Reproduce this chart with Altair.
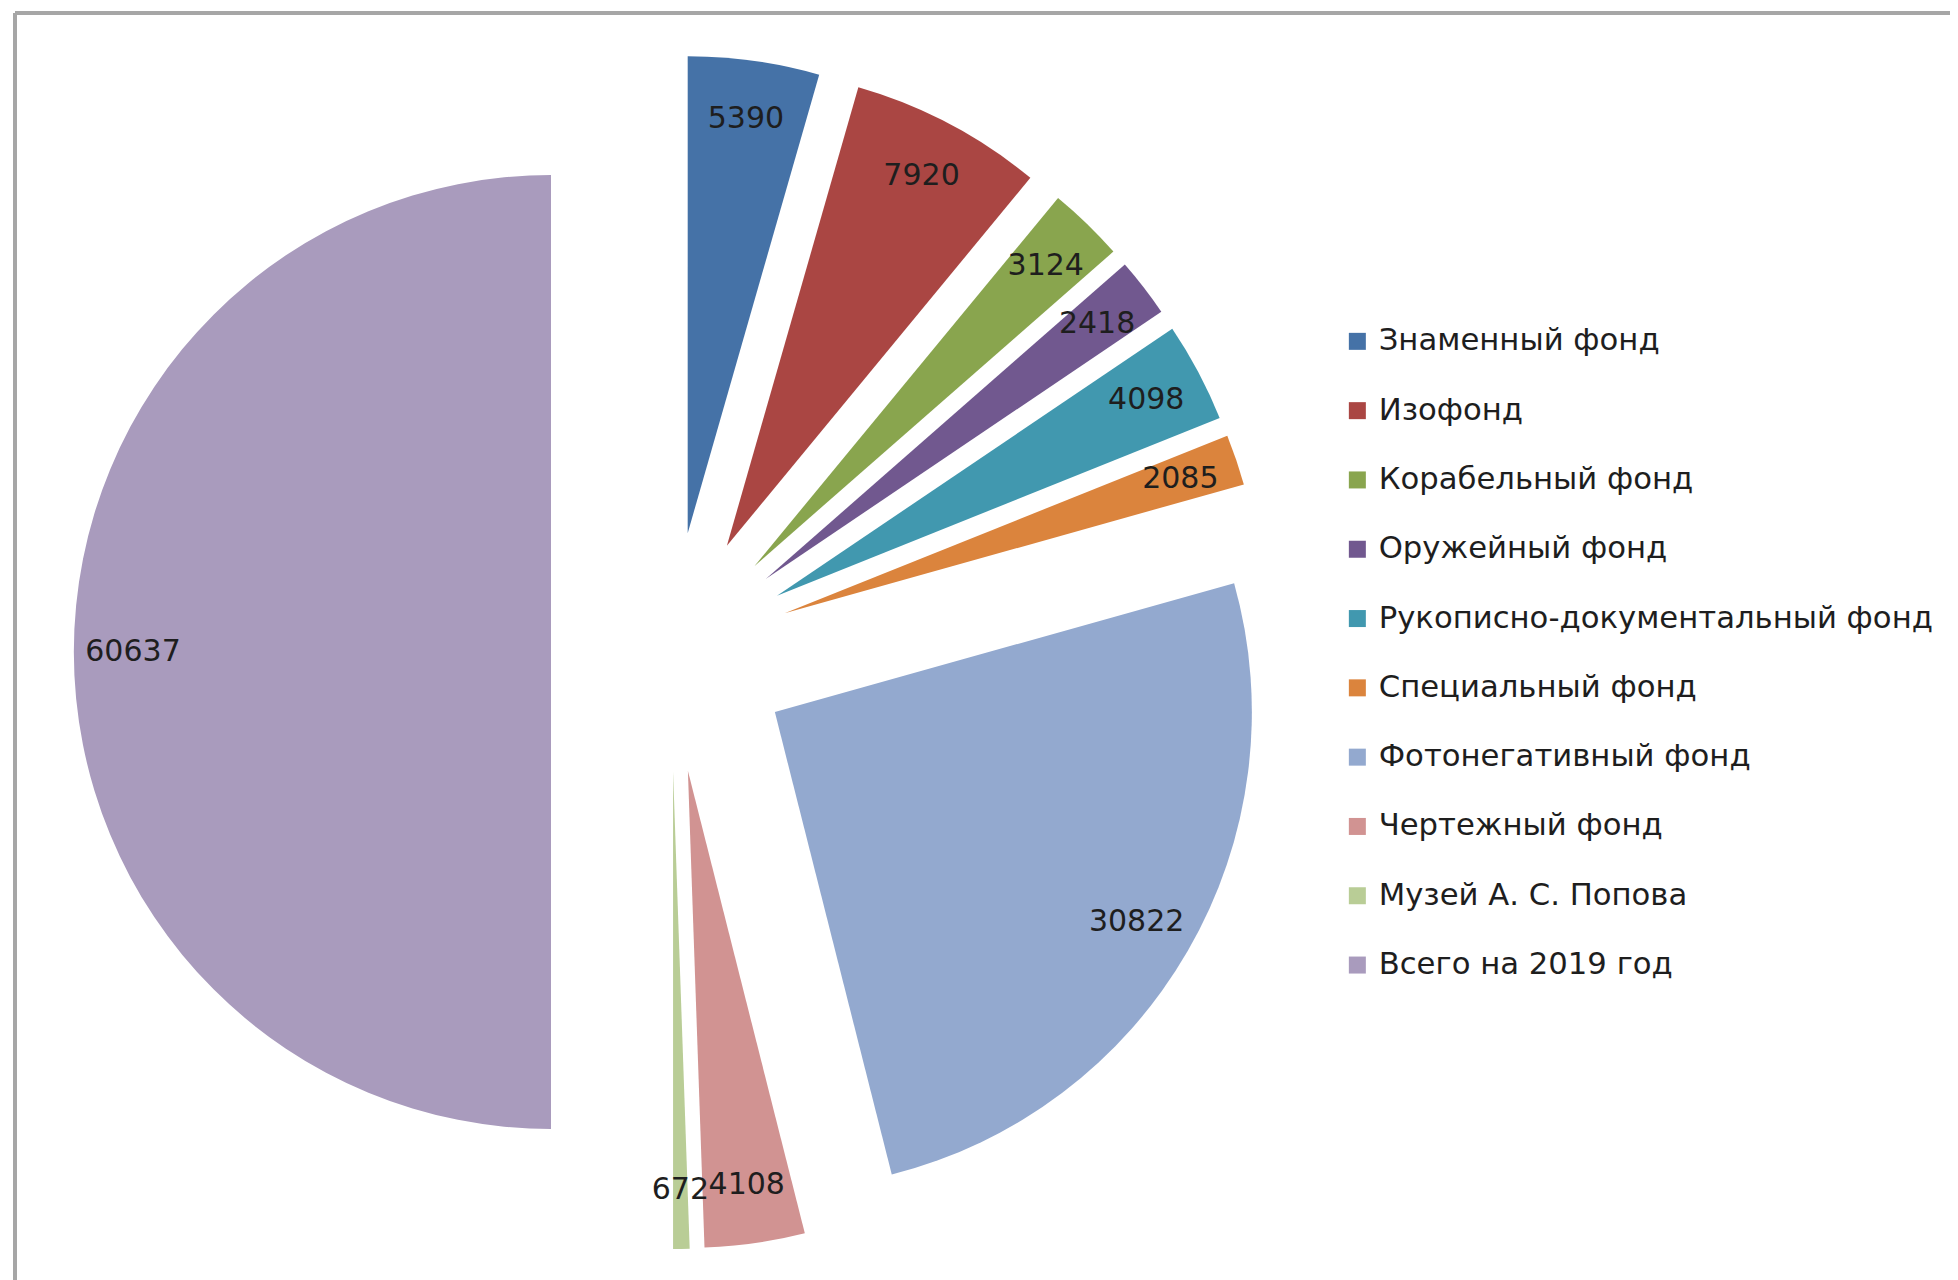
import altair as alt
import pandas as pd

categories = [
    "Знаменный фонд",
    "Изофонд",
    "Корабельный фонд",
    "Оружейный фонд",
    "Рукописно-документальный фонд",
    "Специальный фонд",
    "Фотонегативный фонд",
    "Чертежный фонд",
    "Музей А. С. Попова",
    "Всего на 2019 год",
]
values = [5390, 7920, 3124, 2418, 4098, 2085, 30822, 4108, 672, 60637]
colors = ["#4572A7", "#AA4643", "#89A54E", "#71588F", "#4198AF",
          "#DB843D", "#93A9CF", "#D19392", "#B9CD96", "#A99BBD"]

df = pd.DataFrame({"cat": categories, "value": values, "order": list(range(len(values)))})

W, H = 1942, 1272
CX, CY = 663, 644      # pie centre (px)
R = 477                # pie radius
E = 120                # explosion offset
LR = 418               # label distance from slice apex
FONT = "DejaVu Sans"

base = alt.Chart(df).transform_window(
    cum="sum(value)", sort=[alt.SortField("order")]
).transform_joinaggregate(
    total="sum(value)"
).transform_calculate(
    t0="2*PI*(datum.cum - datum.value)/datum.total",
    t1="2*PI*datum.cum/datum.total",
).transform_calculate(
    mid="(datum.t0 + datum.t1)/2"
).transform_calculate(
    px=f"{CX} + {E}*sin(datum.mid)",
    py=f"{CY} - {E}*cos(datum.mid)",
).transform_calculate(
    lx=f"datum.px + {LR}*sin(datum.mid)",
    ly=f"datum.py - {LR}*cos(datum.mid)",
)

arcs = base.mark_arc(radius=R, strokeWidth=0).encode(
    theta=alt.Theta("t0:Q", scale=None),
    theta2="t1:Q",
    x=alt.X("px:Q", scale=None, axis=None),
    y=alt.Y("py:Q", scale=None, axis=None),
    color=alt.Color(
        "cat:N",
        scale=alt.Scale(domain=categories, range=colors),
        legend=alt.Legend(
            title=None, orient="none", legendX=1334, legendY=318,
            symbolType="square", symbolSize=289, symbolStrokeWidth=0,
            labelFont=FONT, labelFontSize=30.7, labelColor="#1e1e1e",
            rowPadding=37.3, labelOffset=6, labelLimit=0, padding=0,
        ),
    ),
)

labels = base.mark_text(font=FONT, fontSize=30, color="#1e1e1e",
                        align="center", baseline="middle").encode(
    x=alt.X("lx:Q", scale=None, axis=None),
    y=alt.Y("ly:Q", scale=None, axis=None),
    text="value:Q",
)

frame_left = alt.Chart(df).mark_rule(color="#A6A6A6", strokeWidth=3).encode(
    x=alt.value(7), y=alt.value(5), y2=alt.value(H))
frame_top = alt.Chart(df).mark_rule(color="#A6A6A6", strokeWidth=3).encode(
    x=alt.value(7), x2=alt.value(1946), y=alt.value(5))
frame_right = alt.Chart(df).mark_rule(color="#A6A6A6", strokeWidth=3).encode(
    x=alt.value(1946), y=alt.value(5), y2=alt.value(H))

chart = alt.layer(arcs, labels, frame_left, frame_top, frame_right).properties(
    width=W, height=H, autosize=alt.AutoSizeParams(type="none"), padding=0
).configure_view(stroke=None)

chart.save("out.html", embed_options={"renderer": "svg", "actions": False})
